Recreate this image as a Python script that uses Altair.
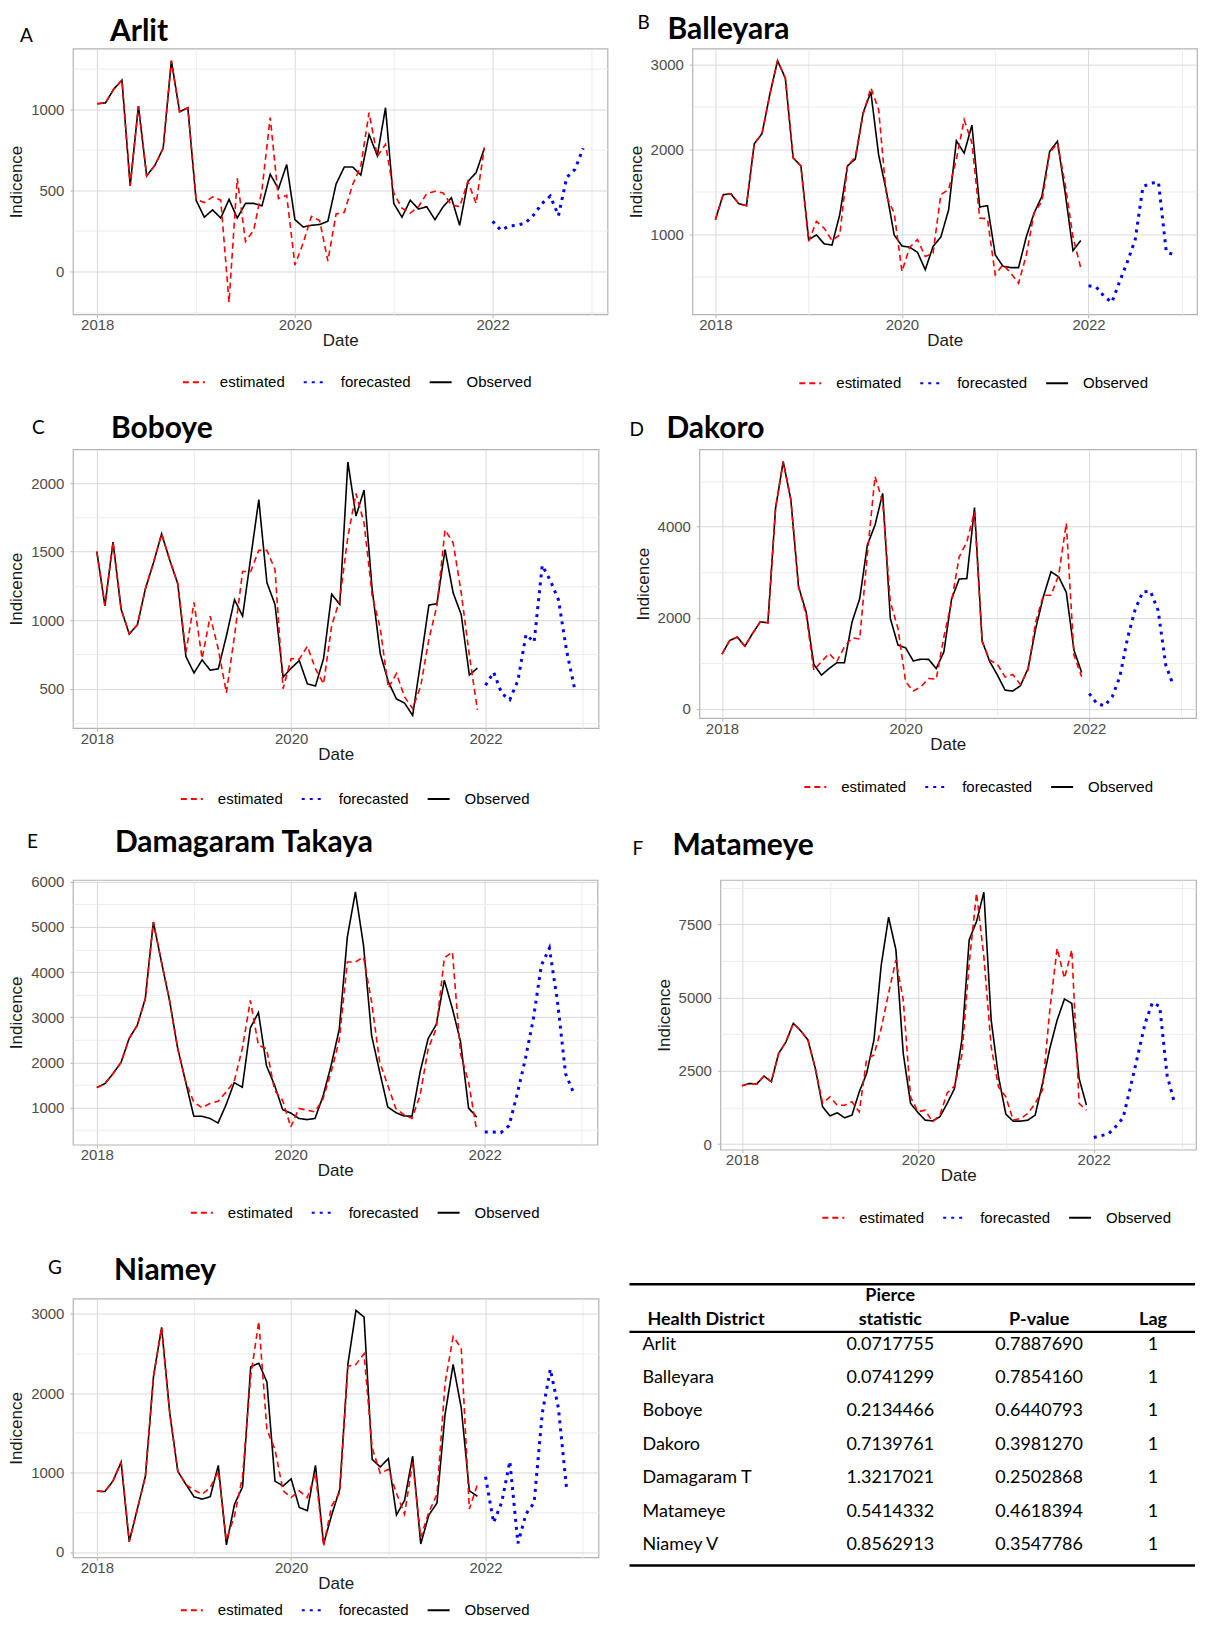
import math
import altair as alt
import pandas as pd

# ------------------------------------------------------------------ data
obs_months = [f"{y}-{m:02d}" for y in (2018, 2019, 2020, 2021) for m in range(1, 13)]
fc_months = [f"2022-{m:02d}" for m in range(1, 13)]

arlit_obs = [1035, 1040, 1125, 1180, 530, 1020, 590, 655, 760, 1300, 985, 1010,
             440, 335, 380, 330, 445, 330, 420, 420, 405, 600, 510, 660,
             320, 275, 285, 290, 310, 540, 645, 645, 595, 845, 715, 1010,
             420, 335, 440, 385, 400, 320, 400, 455, 285, 555, 610, 760]
arlit_est = [1035, 1040, 1125, 1180, 530, 1020, 590, 655, 760, 1300, 985, 1010,
             445, 425, 460, 440, -190, 575, 185, 255, 505, 950, 450, 470,
             40, 175, 340, 315, 65, 355, 365, 535, 650, 980, 710, 785,
             485, 390, 360, 400, 480, 495, 485, 410, 400, 555, 420, 765]
arlit_fc = [310, 255, 280, 285, 300, 350, 420, 465, 345, 580, 630, 760]

balleyara_obs = [1170, 1465, 1475, 1360, 1335, 2065, 2185, 2645, 3045, 2840, 1900, 1805,
                 935, 990, 885, 870, 1230, 1805, 1885, 2430, 2675, 1935, 1505, 990,
                 860, 845, 785, 580, 855, 965, 1285, 2100, 1955, 2285, 1320, 1335,
                 755, 620, 605, 605, 970, 1250, 1445, 1975, 2095, 1485, 805, 925]
balleyara_est = [1170, 1465, 1475, 1360, 1335, 2065, 2185, 2645, 3045, 2840, 1900, 1805,
                 915, 1150, 1070, 925, 990, 1805, 1910, 2410, 2725, 2470, 1445, 1250,
                 560, 845, 935, 735, 775, 1465, 1525, 1880, 2350, 2075, 1190, 1180,
                 520, 640, 540, 420, 755, 1250, 1385, 1955, 2075, 1585, 965, 600]
balleyara_fc = [390, 375, 265, 195, 440, 675, 935, 1560, 1600, 1610, 790, 755]

boboye_obs = [1500, 1105, 1570, 1080, 900, 965, 1230, 1420, 1630, 1440, 1265, 735,
              615, 710, 635, 645, 885, 1150, 1030, 1455, 1880, 1275, 1115, 585,
              650, 705, 535, 520, 720, 1190, 1115, 2155, 1760, 1950, 1225, 755,
              550, 425, 395, 305, 700, 1110, 1120, 1515, 1200, 1040, 600, 650]
boboye_est = [1500, 1105, 1570, 1080, 900, 965, 1230, 1420, 1630, 1440, 1265, 765,
              1130, 720, 1030, 790, 470, 885, 1355, 1355, 1510, 1510, 1370, 500,
              720, 715, 810, 645, 535, 960, 1150, 1610, 1925, 1710, 1180, 940,
              505, 610, 440, 355, 520, 860, 1105, 1660, 1565, 1200, 745, 345]
boboye_fc = [525, 620, 465, 420, 560, 895, 840, 1400, 1290, 1150, 780, 500]

dakoro_obs = [1200, 1500, 1575, 1375, 1655, 1910, 1890, 4400, 5430, 4590, 2685, 2130,
              975, 740, 885, 1010, 1010, 1910, 2420, 3600, 4035, 4730, 1985, 1400,
              1340, 1050, 1090, 1085, 885, 1250, 2405, 2850, 2860, 4420, 1490, 1035,
              740, 410, 390, 505, 885, 1765, 2460, 3010, 2900, 2555, 1290, 800]
dakoro_est = [1200, 1500, 1575, 1375, 1655, 1910, 1890, 4400, 5430, 4590, 2685, 2060,
              850, 1035, 1215, 1035, 1360, 1560, 1530, 3400, 5100, 4545, 2350, 1765,
              595, 390, 485, 665, 650, 1580, 2345, 3335, 3665, 4330, 1475, 1070,
              975, 700, 755, 535, 850, 1910, 2495, 2495, 2935, 4075, 1180, 705]
dakoro_fc = [335, 115, 65, 265, 705, 1550, 2180, 2570, 2580, 2160, 960, 510]

damagaram_obs = [1445, 1530, 1750, 2000, 2530, 2820, 3410, 5110, 4225, 3375, 2320, 1565,
                 810, 810, 760, 660, 1065, 1555, 1450, 2765, 3105, 1925, 1495, 955,
                 880, 760, 735, 760, 1260, 1940, 2735, 4780, 5775, 4595, 2600, 1790,
                 1015, 890, 815, 810, 1790, 2530, 2840, 3820, 3190, 2465, 990, 790]
damagaram_est = [1445, 1530, 1750, 2000, 2530, 2820, 3410, 5110, 4225, 3375, 2320, 1580,
                 1120, 1000, 1090, 1140, 1345, 1580, 2305, 3375, 2380, 2305, 1385, 1160,
                 570, 980, 945, 905, 1200, 1790, 2495, 4225, 4225, 4335, 3340, 2010,
                 1495, 980, 845, 760, 1270, 2305, 2750, 4315, 4445, 2195, 1565, 495]
damagaram_fc = [460, 460, 445, 600, 1290, 2060, 2950, 4150, 4530, 3350, 1750, 1325]

matameye_obs = [1990, 2070, 2050, 2320, 2130, 3095, 3490, 4120, 3870, 3550, 2585, 1275,
                965, 1070, 900, 990, 1785, 2410, 3550, 6110, 7740, 6625, 3095, 1390,
                1080, 820, 795, 935, 1390, 1900, 3550, 6965, 7590, 8590, 4230, 2300,
                1025, 785, 785, 820, 990, 2070, 3265, 4230, 4950, 4800, 2240, 1330]
matameye_est = [1990, 2070, 2050, 2320, 2130, 3095, 3490, 4120, 3870, 3550, 2585, 1390,
                1615, 1330, 1330, 1445, 1105, 2890, 3040, 3950, 5145, 6285, 4920, 1615,
                1105, 1160, 760, 990, 1750, 1980, 3040, 6170, 8560, 6395, 3325, 1955,
                1615, 820, 875, 1045, 1390, 1845, 4575, 6680, 5655, 6625, 1390, 1160]
matameye_fc = [230, 290, 350, 600, 900, 1935, 3015, 4120, 4825, 4700, 2350, 1420]

niamey_obs = [765, 760, 895, 1130, 130, 540, 955, 2210, 2825, 1750, 1015, 850,
              695, 665, 695, 1090, 90, 600, 820, 2330, 2375, 2140, 890, 830,
              920, 560, 520, 1090, 100, 465, 790, 2360, 3040, 2955, 1165, 1070,
              1175, 465, 650, 1205, 100, 465, 615, 1730, 2360, 1815, 770, 700]
niamey_est = [765, 760, 895, 1130, 130, 540, 955, 2210, 2825, 1750, 1015, 850,
              780, 725, 810, 1015, 155, 455, 955, 2210, 2900, 1540, 1290, 770,
              685, 770, 685, 990, 80, 580, 750, 2335, 2360, 2495, 1310, 990,
              1040, 740, 475, 1130, 185, 500, 725, 2125, 2710, 2565, 540, 850]
niamey_fc = [945, 369, 625, 1140, 108, 480, 620, 1740, 2300, 1810, 805]

table_districts = ["Arlit", "Balleyara", "Boboye", "Dakoro", "Damagaram T", "Matameye", "Niamey V"]
table_pierce = ["0.0717755", "0.0741299", "0.2134466", "0.7139761", "1.3217021", "0.5414332", "0.8562913"]
table_pvalue = ["0.7887690", "0.7854160", "0.6440793", "0.3981270", "0.2502868", "0.4618394", "0.3547786"]
table_lag = ["1", "1", "1", "1", "1", "1", "1"]

# ------------------------------------------------------------------ style
SERIES = ["estimated", "forecasted", "Observed"]
SERIES_COLORS = ["#ff0000", "#0000ff", "#000000"]
SERIES_DASH = [[6, 4], [3, 5], [1, 0]]
MAJOR = "#d9d9d9"
MINOR = "#ececec"
TICK = "#b3b3b3"
TITLE_FONT = "Lato"
AXIS_FONT = "Liberation Sans"


def decimal_year(s):
    y, m = s.split("-")
    return int(y) + (int(m) - 1) / 12.0


X_LO, X_HI = 2018.0, 2022 + 11 / 12
X_PAD = 0.05 * (X_HI - X_LO)
X_DOMAIN = [X_LO - X_PAD, X_HI + X_PAD]
X_TICKS = [2018, 2019, 2020, 2021, 2022, 2023]


def make_df(obs, est, fc):
    recs = []
    for m, v in zip(obs_months, obs):
        recs.append({"t": decimal_year(m), "v": v, "s": "Observed"})
    for m, v in zip(obs_months, est):
        recs.append({"t": decimal_year(m), "v": v, "s": "estimated"})
    for m, v in zip(fc_months, fc):
        recs.append({"t": decimal_year(m), "v": v, "s": "forecasted"})
    return pd.DataFrame(recs)


def cond(test, minor_val, major_val):
    return {"condition": {"test": test, "value": minor_val}, "value": major_val}


def label_text(text, xpos, ypos, size, weight):
    return alt.Chart(pd.DataFrame({"lab": [text]})).mark_text(
        align="left", baseline="alphabetic", font=TITLE_FONT, fontSize=size,
        fontWeight=weight, color="#000000"
    ).encode(text="lab:N", x=alt.value(xpos), y=alt.value(ypos))


def panel(p):
    df = make_df(p["obs"], p["est"], p["fc"])
    lo, hi = float(df.v.min()), float(df.v.max())
    pad = 0.05 * (hi - lo)
    ydom = [lo - pad, hi + pad]
    step = p["step"]
    half = step / 2
    yvals = [int(k * half) for k in range(math.ceil(ydom[0] / half), math.floor(ydom[1] / half) + 1)]
    ymin = f"datum.value % {step} != 0"
    xmin = "datum.value % 2 != 0"

    xaxis = alt.Axis(values=X_TICKS, title="Date",
                     labelExpr="datum.value % 2 == 0 ? format(datum.value, 'd') : ''",
                     gridColor=cond(xmin, MINOR, MAJOR),
                     tickColor=cond(xmin, "transparent", TICK))
    yaxis = alt.Axis(values=yvals, title="Indicence",
                     labelExpr=f"datum.value % {step} == 0 ? format(datum.value, 'd') : ''",
                     gridColor=cond(ymin, MINOR, MAJOR),
                     tickColor=cond(ymin, "transparent", TICK))
    leg = alt.Legend(orient="none", legendX=p["legx"], legendY=p["legy"], direction="horizontal",
                     title=None, symbolType="stroke", symbolSize=484, symbolStrokeWidth=2,
                     labelFont=AXIS_FONT, labelFontSize=15, labelColor="#000000",
                     columnPadding=14, labelOffset=14, padding=0)

    base = alt.Chart(df).encode(
        x=alt.X("t:Q", scale=alt.Scale(domain=X_DOMAIN, nice=False, zero=False), axis=xaxis),
        y=alt.Y("v:Q", scale=alt.Scale(domain=ydom, nice=False, zero=False), axis=yaxis),
        color=alt.Color("s:N", scale=alt.Scale(domain=SERIES, range=SERIES_COLORS), legend=leg),
        strokeDash=alt.StrokeDash("s:N", scale=alt.Scale(domain=SERIES, range=SERIES_DASH), legend=leg),
    )
    obs_line = base.transform_filter(alt.datum.s == "Observed").mark_line(strokeWidth=1.6)
    est_line = base.transform_filter(alt.datum.s == "estimated").mark_line(strokeWidth=1.6)
    fc_line = base.transform_filter(alt.datum.s == "forecasted").mark_line(strokeWidth=3)

    return alt.layer(
        obs_line, est_line, fc_line,
        label_text(p["letter"], p["lx"], p["ly"], 19, "normal"),
        label_text(p["name"], p["tdx"], p["ty"], 30, "bold"),
    ).properties(width=p["w"], height=p["h"])


panels = {
    "A": dict(letter="A", name="Arlit", obs=arlit_obs, est=arlit_est, fc=arlit_fc, step=500,
              w=535, h=266, tdx=37, ty=-8, lx=-53, ly=-7, legx=109, legy=322),
    "B": dict(letter="B", name="Balleyara", obs=balleyara_obs, est=balleyara_est, fc=balleyara_fc, step=1000,
              w=505, h=266, tdx=-25, ty=-10, lx=-55, ly=-20, legx=106, legy=323),
    "C": dict(letter="C", name="Boboye", obs=boboye_obs, est=boboye_est, fc=boboye_fc, step=500,
              w=526, h=279, tdx=38, ty=-11, lx=-41, ly=-15, legx=107, legy=338),
    "D": dict(letter="D", name="Dakoro", obs=dakoro_obs, est=dakoro_est, fc=dakoro_fc, step=2000,
              w=497, h=269, tdx=-33, ty=-11, lx=-70, ly=-13, legx=104, legy=326),
    "E": dict(letter="E", name="Damagaram Takaya", obs=damagaram_obs, est=damagaram_est, fc=damagaram_fc,
              step=1000, w=525, h=265, tdx=42, ty=-28, lx=-46, ly=-32, legx=117, legy=321),
    "F": dict(letter="F", name="Matameye", obs=matameye_obs, est=matameye_est, fc=matameye_fc, step=2500,
              w=476, h=270, tdx=-48, ty=-25, lx=-88, ly=-25, legx=101, legy=326),
    "G": dict(letter="G", name="Niamey", obs=niamey_obs, est=niamey_est, fc=niamey_fc, step=1000,
              w=526, h=259, tdx=41, ty=-19, lx=-25, ly=-25, legx=107, legy=300),
}

charts = {k: panel(v) for k, v in panels.items()}

# ------------------------------------------------------------------ table
TABLE_W = 566
ROW_Y = alt.Scale(domain=[0, 6], range=[46, 247])
tbl = pd.DataFrame({"row": list(range(len(table_districts))), "name": table_districts,
                    "pierce": table_pierce, "pval": table_pvalue, "lag": table_lag})
COL_NAME_X, COL_PIERCE_X, COL_P_X, COL_LAG_X = 13, 261, 410, 524
HEAD_ROW2, HEAD_ROW1 = -0.72, -1.45
RULE_ROWS = [-1.8, -0.38, 6.6]


def body(field, xpos, align):
    return alt.Chart(tbl).mark_text(align=align, font=TITLE_FONT, fontSize=18, color="#000000").encode(
        text=f"{field}:N", x=alt.value(xpos), y=alt.Y("row:Q", scale=ROW_Y, axis=None))


def head(text, row, xpos, align):
    return alt.Chart(pd.DataFrame({"txt": [text], "row": [row]})).mark_text(
        align=align, font=TITLE_FONT, fontSize=18, fontWeight="bold", color="#000000").encode(
        text="txt:N", x=alt.value(xpos), y=alt.Y("row:Q", scale=ROW_Y, axis=None))


rules = alt.Chart(pd.DataFrame({"row": RULE_ROWS})).mark_rule(color="#000000", strokeWidth=2.4).encode(
    y=alt.Y("row:Q", scale=ROW_Y, axis=None), x=alt.value(0), x2=alt.value(TABLE_W))

table = alt.layer(
    rules,
    head("Health District", HEAD_ROW2, 18, "left"),
    head("Pierce", HEAD_ROW1, COL_PIERCE_X, "center"),
    head("statistic", HEAD_ROW2, COL_PIERCE_X, "center"),
    head("P-value", HEAD_ROW2, COL_P_X, "center"),
    head("Lag", HEAD_ROW2, COL_LAG_X, "center"),
    body("name", COL_NAME_X, "left"),
    body("pierce", COL_PIERCE_X, "center"),
    body("pval", COL_P_X, "center"),
    body("lag", COL_LAG_X, "center"),
).properties(width=TABLE_W, height=260, view=alt.ViewBackground(stroke="transparent"))


# ------------------------------------------------------------------ layout
def indep(c):
    return c.resolve_scale(color="independent", strokeDash="independent").resolve_legend(
        color="independent", strokeDash="independent")


row1 = indep(alt.hconcat(charts["A"], charts["B"], spacing=18))
row2 = indep(alt.hconcat(charts["C"], charts["D"], spacing=29))
row3 = indep(alt.hconcat(charts["E"], charts["F"], spacing=33))
row4 = indep(alt.hconcat(charts["G"], table, spacing=28))

top_pair = indep(alt.vconcat(row1, row2, spacing=21))
bottom_pair = indep(alt.vconcat(row3, row4, spacing=28))
chart = indep(alt.vconcat(top_pair, bottom_pair, spacing=19)).properties(
    padding={"left": -1, "top": 4, "right": 0, "bottom": 0}
).configure_view(stroke="#b3b3b3", strokeWidth=1.2).configure_axis(
    labelFont=AXIS_FONT, labelFontSize=15, labelColor="#4d4d4d",
    titleFont=AXIS_FONT, titleFontSize=17, titleFontWeight="normal", titleColor="#1a1a1a",
    domain=False, tickSize=3, labelOverlap=False, labelFlush=False,
).configure_axisX(labelPadding=0, titlePadding=0).configure_axisY(labelPadding=6, titlePadding=5)

chart.save("out.html", embed_options={"renderer": "svg", "actions": False})
